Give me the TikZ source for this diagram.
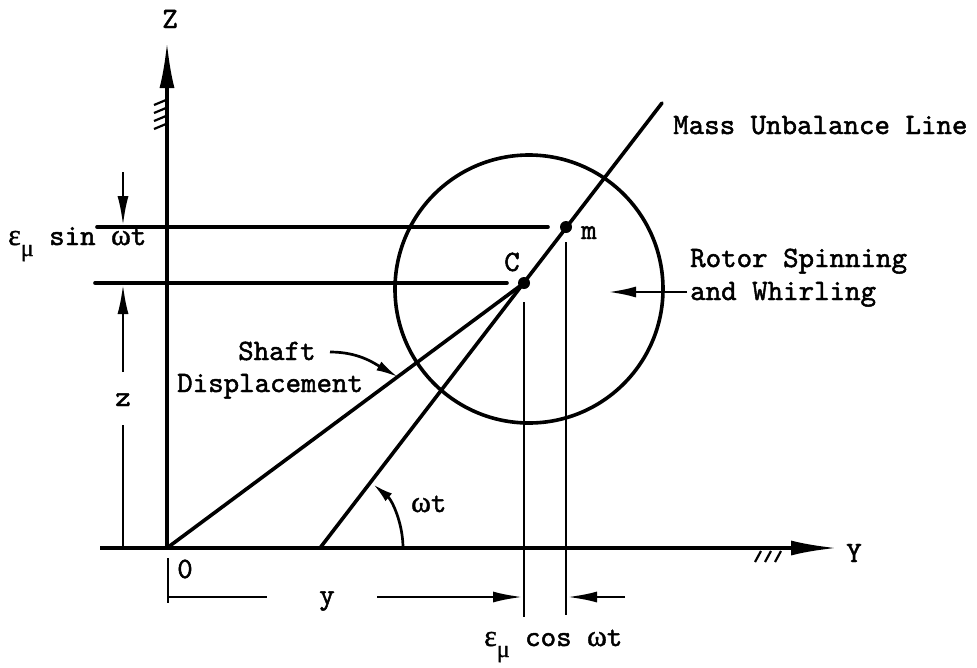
\documentclass[tikz,border=0pt]{standalone}
\usepackage{fontspec}
\newfontfamily\grk{Liberation Serif}[FakeBold=1.2]
\newfontfamily\tyw{lmmono10-regular.otf}[FakeBold=1.6]
\usetikzlibrary{arrows.meta}
\newcommand\lbltxt{\tyw\fontsize{29.5}{33}\selectfont}
\newcommand\epsmu{{\grk\fontsize{30}{33}\selectfont ε}\raisebox{-11pt}{\grk\fontsize{24}{24}\selectfont μ}}
\newcommand\omg{{\grk\fontsize{30}{33}\selectfont ω}}
\begin{document}
\begin{tikzpicture}[x=1pt,y=-1pt,
  every node/.style={font=\lbltxt, inner sep=0pt, text=black},
  mainline/.style={line width=3.6pt, line cap=round},
  thinline/.style={line width=2.7pt},
  dimline/.style={line width=2.7pt, -{Latex[length=30pt,width=11pt]}},
  axisarrow/.style={line width=3.6pt, -{Latex[length=46pt,width=15pt]}},
  hatch/.style={line width=2.2pt},
  dotmark/.style={circle, fill=black, minimum size=12pt, inner sep=0pt}
]
\useasboundingbox (0,0) rectangle (977,667);
% key points
\coordinate (O) at (167,548);
\coordinate (Ztip) at (167,42);
\coordinate (Ystart) at (100,548);
\coordinate (Ytip) at (837,548);
\coordinate (P) at (320,548);
\coordinate (L) at (662,103);
\coordinate (cc) at (529,289);
% axes
\draw[axisarrow] (O) -- (Ztip);
\draw[axisarrow] (Ystart) -- (Ytip);
\foreach \yy in {100,108,116,124} \draw[hatch] (154,\yy+5) -- (166,\yy);
\foreach \xx in {755,765,775} \draw[hatch] (\xx,562) -- (\xx+6,551);
% rotor circle
\draw[mainline] (cc) circle[radius=134];
% shaft and mass unbalance lines
\node[dotmark] (C) at (524,283) {};
\node[dotmark] (M) at (566,227) {};
\draw[mainline] (O) -- (C.center);
\draw[mainline] (P) -- (L);
% horizontal level lines
\coordinate (hm1) at (97,227);
\coordinate (hm2) at (548,227);
\coordinate (hc1) at (95,283);
\coordinate (hc2) at (507,283);
\draw[mainline] (hm1) -- (hm2);
\draw[mainline] (hc1) -- (hc2);
% vertical projections
\coordinate (vc1) at (524,302);
\coordinate (vc2) at (524,617);
\coordinate (vm1) at (566,242);
\coordinate (vm2) at (566,615);
\draw[thinline] (vc1) -- (vc2);
\draw[thinline] (vm1) -- (vm2);
% left dimensions
\coordinate (d1) at (123,172);
\coordinate (d1t) at (123,226);
\coordinate (d2) at (123,372);
\coordinate (d2t) at (123,284);
\coordinate (d3) at (123,425);
\coordinate (d3e) at (123,548);
\draw[dimline] (d1) -- (d1t);
\draw[dimline] (d2) -- (d2t);
\draw[thinline] (d3) -- (d3e);
% bottom dimensions
\coordinate (t1) at (168,558);
\coordinate (t2) at (168,603);
\draw[thinline] (t1) -- (t2);
\coordinate (y1) at (168,597);
\coordinate (y2) at (267,597);
\coordinate (y3) at (377,597);
\coordinate (y4) at (523,597);
\draw[thinline] (y1) -- (y2);
\draw[dimline] (y3) -- (y4);
\coordinate (c1) at (625,597);
\coordinate (c2) at (567,597);
\draw[dimline] (c1) -- (c2);
% omega t arc
\draw[thinline, -{Latex[length=20pt,width=10pt]}] (403,548) arc[start angle=0, end angle=-50, radius=83];
% labels
\node[anchor=base] (Zl) at (170,28) {Z};
\node[anchor=base] (Yl) at (854,562) {Y};
\node[anchor=base] (Ol) at (185,578) {0};
\node[anchor=base] (yl) at (327,604) {y};
\node[anchor=base] (zl) at (123,406) {z};
\node[anchor=base west] (es) at (8,245) {\epsmu\ sin \omg t};
\node[anchor=base west] (ec) at (484,646) {\epsmu\ cos \omg t};
\node[anchor=base] (Cl) at (512,271) {C};
\node[anchor=base] (ml) at (589,239) {m};
\node[anchor=base west] (wt) at (411,512) {\omg t};
\node[anchor=base west] (mul) at (673,134) {Mass Unbalance Line};
\node[anchor=base west, align=left] (rot) at (690,300) {Rotor Spinning\\and Whirling};
\node[anchor=base west] (sh) at (238,360) {Shaft};
\node[anchor=base west] (disp) at (177,392) {Displacement};
% pointer arrows
\coordinate (rtip) at (608,292);
\coordinate (rstart) at (687,292);
\draw[thinline, -{Latex[length=28pt,width=11pt]}] (rstart) -- (rtip);
\coordinate (sstart) at (330,352);
\coordinate (stip) at (398,377);
\draw[thinline, -{Latex[length=22pt,width=10pt]}] (sstart) to[out=0,in=150] (stip);
\end{tikzpicture}
\end{document}
